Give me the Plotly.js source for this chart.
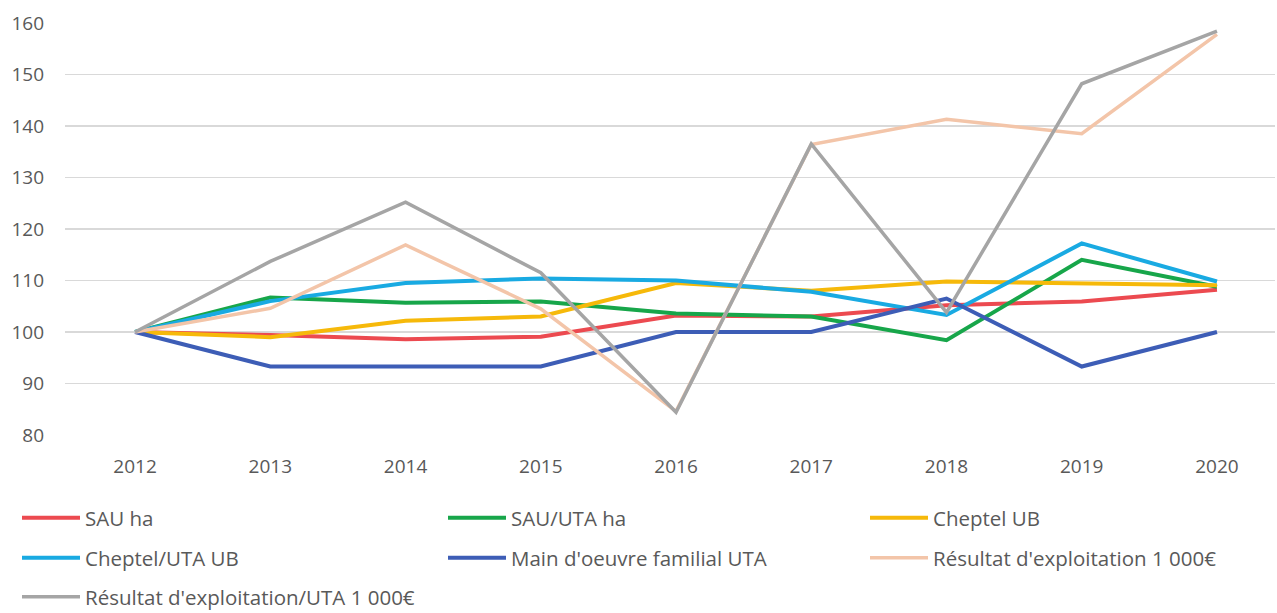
<!DOCTYPE html>
<html>
<head>
<meta charset="utf-8">
<script src="https://cdn.plot.ly/plotly-3.0.1.min.js"></script>
<style>html,body{margin:0;padding:0;background:#fff;}#chart{width:1277px;height:613px;}</style>
</head>
<body>
<div id="chart"></div>
<script>
const years = ['2012','2013','2014','2015','2016','2017','2018','2019','2020'];
const sauHa = [100, 99.4, 98.6, 99.1, 103.2, 103.0, 105.2, 105.9, 108.2];
const sauUtaHa = [100, 106.7, 105.7, 105.9, 103.6, 103.0, 98.4, 114.0, 108.8];
const cheptelUb = [100, 99.0, 102.2, 103.0, 109.5, 108.0, 109.8, 109.4, 109.1];
const cheptelUtaUb = [100, 106.0, 109.5, 110.4, 110.0, 107.8, 103.3, 117.2, 109.8];
const mainOeuvre = [100, 93.3, 93.3, 93.3, 100, 100, 106.5, 93.3, 100];
const resultat = [100, 104.6, 116.9, 104.5, 84.6, 136.4, 141.3, 138.5, 157.8];
const resultatUta = [100, 113.7, 125.2, 111.5, 84.4, 136.5, 103.8, 148.2, 158.4];

const names = ['SAU ha', 'SAU/UTA ha', 'Cheptel UB', 'Cheptel/UTA UB',
  "Main d'oeuvre familial UTA", "Résultat d'exploitation 1 000€", "Résultat d'exploitation/UTA 1 000€"];
const series = [sauHa, sauUtaHa, cheptelUb, cheptelUtaUb, mainOeuvre, resultat, resultatUta];
const colors = ['#ec4a50', '#17a64a', '#f6b90a', '#19aae2', '#3d5db6', '#f3c5a9', '#a5a5a5'];
const widths = [4, 4, 4, 4, 4, 3.5, 3.5];

const legendIds = ['legend', 'legend2', 'legend3', 'legend4', 'legend5', 'legend6', 'legend7'];
const traces = series.map((s, i) => ({
  x: years, y: s, name: names[i], type: 'scatter', mode: 'lines',
  line: {color: colors[i], width: widths[i]},
  legend: legendIds[i]
}));

const colX = [17, 443, 865];
const rowY = [518, 558, 597];
const layout = {
  width: 1277, height: 613,
  margin: {l: 65, r: 2, t: 23, b: 178, autoexpand: false},
  paper_bgcolor: '#ffffff', plot_bgcolor: '#ffffff',
  font: {family: 'Open Sans, sans-serif', color: '#595959', size: 19},
  showlegend: true,
  xaxis: {
    type: 'category', range: [-0.518, 8.429], showgrid: false, zeroline: false, showline: false,
    ticks: '', ticklabelstandoff: 18, automargin: false, tickangle: 0,
    tickfont: {size: 19, color: '#595959'}
  },
  yaxis: {
    range: [80, 160], dtick: 10, tick0: 80, showgrid: true, gridcolor: '#d9d9d9', gridwidth: 1.5,
    zeroline: false, showline: false, ticks: '', ticklabelstandoff: 20, automargin: false,
    tickfont: {size: 19, color: '#595959'}
  }
};
legendIds.forEach((id, i) => {
  const col = i % 3, row = Math.floor(i / 3);
  layout[id] = {
    xref: 'container', yref: 'container',
    x: colX[col] / 1277, y: 1 - rowY[row] / 613,
    xanchor: 'left', yanchor: 'middle',
    bgcolor: 'rgba(0,0,0,0)', borderwidth: 0, itemwidth: 58,
    font: {size: 20.5, color: '#595959', family: 'Open Sans, sans-serif'}
  };
});
Plotly.newPlot('chart', traces, layout, {displayModeBar: false, staticPlot: true});
</script>
</body>
</html>
